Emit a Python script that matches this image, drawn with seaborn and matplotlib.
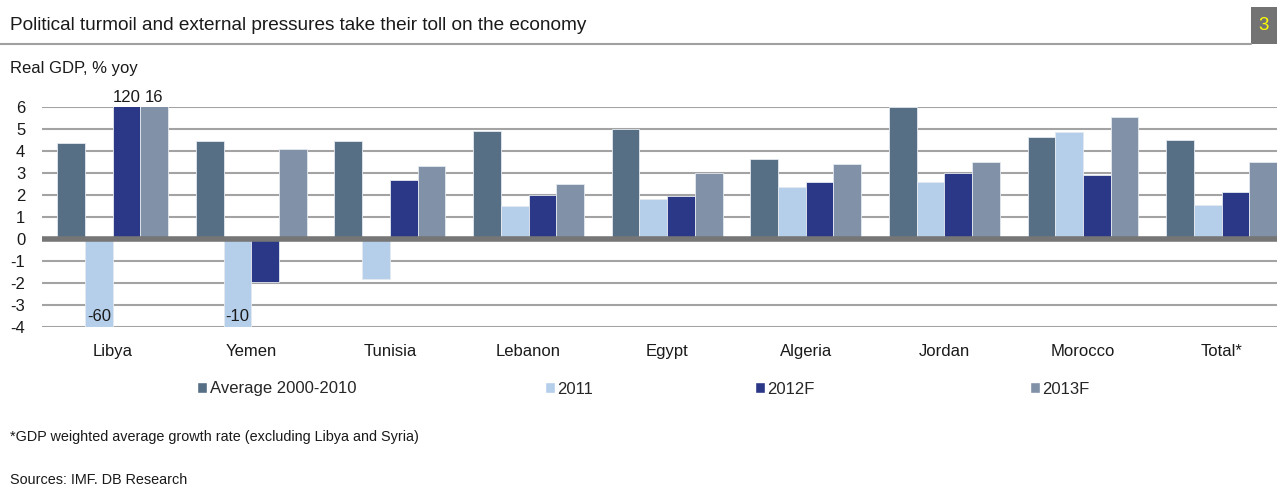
import pandas as pd
import matplotlib.pyplot as plt
import seaborn as sns
from matplotlib.patches import Rectangle, Patch
from matplotlib.lines import Line2D

countries = ['Libya', 'Yemen', 'Tunisia', 'Lebanon', 'Egypt', 'Algeria', 'Jordan', 'Morocco', 'Total*']
series = ['Average 2000-2010', '2011', '2012F', '2013F']
avg_2000_2010 = [4.35, 4.45, 4.45, 4.9, 5.0, 3.65, 6.0, 4.65, 4.5]
gdp_2011 = [-60, -10, -1.8, 1.5, 1.8, 2.35, 2.6, 4.85, 1.55]
gdp_2012f = [120, -1.95, 2.7, 2.0, 1.95, 2.6, 3.0, 2.9, 2.15]
gdp_2013f = [16, 4.08, 3.3, 2.5, 3.0, 3.4, 3.5, 5.55, 3.5]
colors = ['#576f84', '#b5cfea', '#2b3787', '#8191a7']

y_lo, y_hi = -4, 6

rows = []
for name, vals in zip(series, [avg_2000_2010, gdp_2011, gdp_2012f, gdp_2013f]):
    for c, v in zip(countries, vals):
        rows.append({'country': c, 'series': name, 'value': v})
df = pd.DataFrame(rows)

sns.set_style('white')
plt.rcParams['font.family'] = ['Liberation Sans', 'DejaVu Sans']
plt.rcParams['axes.unicode_minus'] = False
W, H = 1277, 486
fig = plt.figure(figsize=(W / 100, H / 100), dpi=100)
ax = fig.add_axes([42 / W, (H - 327) / H, (W - 42) / W, 220 / H])

sns.barplot(data=df, x='country', y='value', hue='series', hue_order=series,
            palette=colors, saturation=1, width=0.8, gap=0, ax=ax,
            edgecolor='#e4e9f0', linewidth=0.6, zorder=3)
ax.get_legend().remove()

ax.set_ylim(y_lo, y_hi)
ax.set_xlim(-0.51, 8.4)
ax.set_yticks(range(y_lo, y_hi + 1))
for t in range(y_lo, y_hi + 1):
    if t != 0:
        ax.axhline(t, color='#a3a3a3', lw=1.5, zorder=1)
ax.axhline(0, color='#767676', lw=4, zorder=4)
for s in ax.spines.values():
    s.set_visible(False)
ax.set_xlabel('')
ax.set_ylabel('')
ax.tick_params(axis='y', length=0, pad=12, labelsize=12, labelcolor='#1a1a1a')
ax.tick_params(axis='x', length=0, pad=12, labelsize=12, labelcolor='#1a1a1a')

# value labels for bars that run off the scale
for si, vals in enumerate([avg_2000_2010, gdp_2011, gdp_2012f, gdp_2013f]):
    for ci, v in enumerate(vals):
        if v > y_hi or v < y_lo:
            bar = ax.containers[si][ci]
            xc = bar.get_x() + bar.get_width() / 2
            if v > y_hi:
                ax.text(xc, y_hi + 0.1, f'{v:g}', ha='center', va='bottom', fontsize=12, color='#1a1a1a')
            else:
                ax.text(xc, y_lo + 0.15, f'{v:g}', ha='center', va='bottom', fontsize=12, color='#1a1a1a')

# legend entries placed like the original
leg_x = [197, 545, 755, 1030]
for name, col, lx in zip(series, colors, leg_x):
    fig.legend(handles=[Patch(facecolor=col, label=name)], loc='center left',
               bbox_to_anchor=(lx / W, 1 - 389 / H), frameon=False, fontsize=12,
               handlelength=0.6, handleheight=0.6, handletextpad=0.15,
               borderaxespad=0, borderpad=0)

# header
fig.text(10 / W, 1 - 25 / H, 'Political turmoil and external pressures take their toll on the economy',
         fontsize=13.7, color='#1a1a1a', va='center', ha='left')
fig.add_artist(Line2D([0, 1251 / W], [1 - 44 / H, 1 - 44 / H], color='#a0a0a0', lw=1.5))
fig.add_artist(Rectangle((1251 / W, 1 - 44 / H), 26 / W, 37 / H, transform=fig.transFigure,
                         facecolor='#737373', edgecolor='none'))
fig.text(1264 / W, 1 - 25 / H, '3', fontsize=13.5, color='#ffff00', ha='center', va='center')
fig.text(10 / W, 1 - 68 / H, 'Real GDP, % yoy', fontsize=12, color='#1a1a1a', va='center')
fig.text(10 / W, 1 - 437 / H, '*GDP weighted average growth rate (excluding Libya and Syria)',
         fontsize=10.4, color='#1a1a1a', va='center')
fig.text(10 / W, 1 - 480 / H, 'Sources: IMF. DB Research', fontsize=10.4, color='#1a1a1a', va='center')

fig.savefig('out.png', dpi=100)
